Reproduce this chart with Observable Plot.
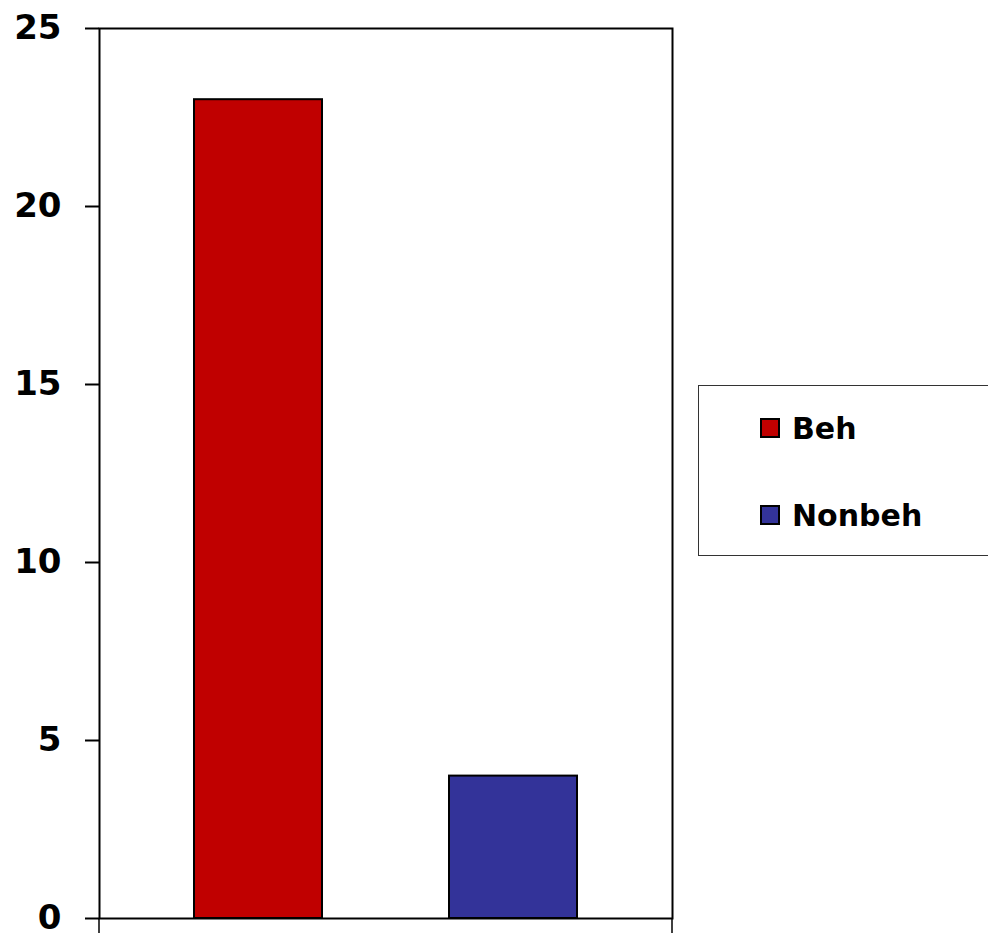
<!DOCTYPE html>
<html>
<head>
<meta charset="utf-8">
<script src="https://cdn.jsdelivr.net/npm/d3@7"></script>
<script src="https://cdn.jsdelivr.net/npm/@observablehq/plot@0.6"></script>
<style>
  html, body { margin: 0; padding: 0; background: #fff; overflow: hidden; }
  #wrap { position: relative; width: 988px; height: 933px; }
  #legend { position: absolute; left: 698px; top: 385px; width: 300px; height: 171px;
    border: 1.5px solid #333; box-sizing: border-box; background: #fff;
    font-family: "DejaVu Sans", sans-serif; font-weight: bold; font-size: 30px; color: #000; }
  .item { position: absolute; left: 61px; display: flex; align-items: center; height: 40px; }
  .sw { width: 16px; height: 16px; border: 2px solid #000; margin-right: 12px; }
</style>
</head>
<body>
<div id="wrap"></div>
<script>
const categories = ["Beh", "Nonbeh"];
const values = [23, 4];
const colors = ["#C00000", "#333399"];
const yTicks = [0, 5, 10, 15, 20, 25];

const data = categories.map((c, i) => ({cat: c, val: values[i]}));

const plot = Plot.plot({
  width: 988,
  height: 933,
  marginLeft: 99,
  marginRight: 316,
  marginTop: 28,
  marginBottom: 15,
  style: {fontFamily: "DejaVu Sans, sans-serif", fontWeight: "bold", color: "#000", background: "#fff"},
  x: {domain: categories, paddingInner: 0.5, paddingOuter: 0.373, axis: null},
  y: {domain: [0, 25], axis: null},
  color: {domain: categories, range: colors},
  marks: [
    Plot.barY(data, {x: "cat", y: "val", fill: "cat", stroke: "#000", strokeWidth: 2}),
    Plot.frame({stroke: "#000", strokeWidth: 2}),
    Plot.axisY({ticks: yTicks, label: null, tickSize: 14, tickPadding: 24, fontSize: 34, fontWeight: "bold", stroke: "#000", strokeWidth: 2, strokeOpacity: 1})
  ]
});

// bottom category-boundary ticks at the ends of the x range
const xr = plot.scale("x").range;
const yr = plot.scale("y").range;
const svg = d3.select(plot);
svg.append("g").selectAll("line").data(xr).join("line")
  .attr("x1", d => d).attr("x2", d => d)
  .attr("y1", yr[0]).attr("y2", yr[0] + 15)
  .attr("stroke", "#000").attr("stroke-width", 1.5);

const wrap = document.getElementById("wrap");
wrap.appendChild(plot);

const legend = document.createElement("div");
legend.id = "legend";
const itemTops = [22, 109];
categories.forEach((c, i) => {
  const it = document.createElement("div");
  it.className = "item";
  it.style.top = itemTops[i] + "px";
  const sw = document.createElement("div");
  sw.className = "sw";
  sw.style.background = colors[i];
  const t = document.createElement("span");
  t.textContent = c;
  it.appendChild(sw);
  it.appendChild(t);
  legend.appendChild(it);
});
wrap.appendChild(legend);
</script>
</body>
</html>
